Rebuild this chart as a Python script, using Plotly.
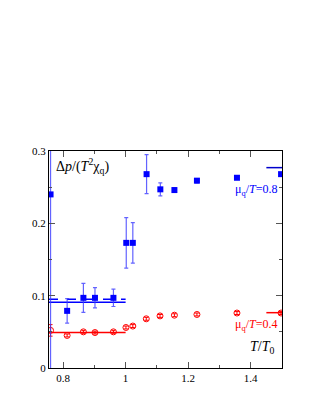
import plotly.graph_objects as go

# Blue series (mu_q/T = 0.8)
blue_x = [0.760, 0.813, 0.865, 0.902, 0.961, 1.002, 1.023, 1.067, 1.111, 1.156, 1.228, 1.356, 1.497]
blue_y = [0.240, 0.079, 0.097, 0.097, 0.097, 0.173, 0.173, 0.268, 0.247, 0.246, 0.259, 0.263, 0.268]
blue_err = [0.30, 0.017, 0.020, 0.014, 0.012, 0.035, 0.028, 0.027, 0.009, 0.003, 0.003, 0.002, 0.002]

# Red series (mu_q/T = 0.4)
red_x = [0.760, 0.813, 0.865, 0.902, 0.961, 1.001, 1.023, 1.066, 1.110, 1.156, 1.228, 1.356, 1.497]
red_y = [0.052, 0.045, 0.050, 0.049, 0.050, 0.056, 0.058, 0.068, 0.072, 0.073, 0.074, 0.076, 0.076]
red_err = [0.008, 0.002, 0.002, 0.002, 0.002, 0.002, 0.002, 0.002, 0.002, 0.002, 0.002, 0.002, 0.002]

# Reference lines
blue_solid_x = [0.755, 1.0]
blue_solid_y = [0.091, 0.091]
blue_dash_x = [0.755, 1.0]
blue_dash_y = [0.095, 0.095]
red_solid_x = [0.755, 1.0]
red_solid_y = [0.049, 0.049]
red_hi_x = [1.45, 1.5]
red_hi_y = [0.0765, 0.0765]
blue_hi_x = [1.45, 1.5]
blue_hi_y = [0.277, 0.277]

x_ticks = [0.8, 1.0, 1.2, 1.4]
x_tick_labels = ["0.8", "1", "1.2", "1.4"]
y_ticks = [0, 0.1, 0.2, 0.3]
y_tick_labels = ["0", "0.1", "0.2", "0.3"]

BLUE = "#0000ff"
RED = "#ff0000"
font = "'Liberation Serif', 'DejaVu Serif', serif"

fig = go.Figure()

fig.add_trace(go.Scatter(x=blue_solid_x, y=blue_solid_y, mode="lines",
                         line=dict(color=BLUE, width=1.5), hoverinfo="skip"))
fig.add_trace(go.Scatter(x=blue_dash_x, y=blue_dash_y, mode="lines",
                         line=dict(color=BLUE, width=1.5, dash="dash"), hoverinfo="skip"))
fig.add_trace(go.Scatter(x=red_solid_x, y=red_solid_y, mode="lines",
                         line=dict(color=RED, width=1.5), hoverinfo="skip"))
fig.add_trace(go.Scatter(x=red_hi_x, y=red_hi_y, mode="lines",
                         line=dict(color=RED, width=1.5), hoverinfo="skip"))
fig.add_trace(go.Scatter(x=blue_hi_x, y=blue_hi_y, mode="lines",
                         line=dict(color="#0000cc", width=1.5), hoverinfo="skip"))

fig.add_trace(go.Scatter(
    x=red_x, y=red_y, mode="markers",
    marker=dict(symbol="circle-open", size=6, color=RED, line=dict(width=1)),
    error_y=dict(type="data", array=red_err, color=RED, thickness=1, width=2),
))
fig.add_trace(go.Scatter(
    x=blue_x, y=blue_y, mode="markers",
    marker=dict(symbol="square", size=6, color=BLUE),
    error_y=dict(type="data", array=blue_err, color="rgba(60,60,255,0.8)", thickness=1.2, width=2),
))

fig.add_annotation(x=0.77, y=0.262, xref="x", yref="y", xanchor="left", yanchor="bottom",
                   text="Δ<i>p</i>/(<i>T</i><sup>2</sup>χ<sub>q</sub>)", showarrow=False,
                   font=dict(family=font, size=14, color="black"))
fig.add_annotation(x=1.343, y=0.232, xref="x", yref="y", xanchor="left", yanchor="bottom",
                   text="μ<sub>q</sub>/<i>T</i>=0.8", showarrow=False,
                   font=dict(family=font, size=12, color=BLUE))
fig.add_annotation(x=1.343, y=0.045, xref="x", yref="y", xanchor="left", yanchor="bottom",
                   text="μ<sub>q</sub>/<i>T</i>=0.4", showarrow=False,
                   font=dict(family=font, size=12, color=RED))
fig.add_annotation(x=1.39, y=0.014, xref="x", yref="y", xanchor="left", yanchor="bottom",
                   text="<i>T</i>/<i>T</i><sub>0</sub>", showarrow=False,
                   font=dict(family=font, size=14, color="black"))

axis_common = dict(showgrid=False, zeroline=False, showline=True, linecolor="black",
                   linewidth=1, mirror="ticks", ticks="inside", ticklen=6, tickcolor="#555",
                   tickfont=dict(family=font, size=11, color="black"))

fig.update_xaxes(range=[0.755, 1.5], tickvals=x_ticks, ticktext=x_tick_labels,
                 minor=dict(tickvals=[0.9, 1.1, 1.3], ticks="inside", ticklen=3, tickcolor="#555"),
                 **axis_common)
fig.update_yaxes(range=[0, 0.3], tickvals=y_ticks, ticktext=y_tick_labels,
                 minor=dict(tickvals=[0.05, 0.15, 0.25], ticks="inside", ticklen=3, tickcolor="#555"),
                 **axis_common)

fig.update_layout(width=322, height=416, showlegend=False,
                  font=dict(family=font),
                  margin=dict(l=41, r=48, t=143, b=56, pad=0),
                  paper_bgcolor="white", plot_bgcolor="white")

fig.write_html("out.html")
